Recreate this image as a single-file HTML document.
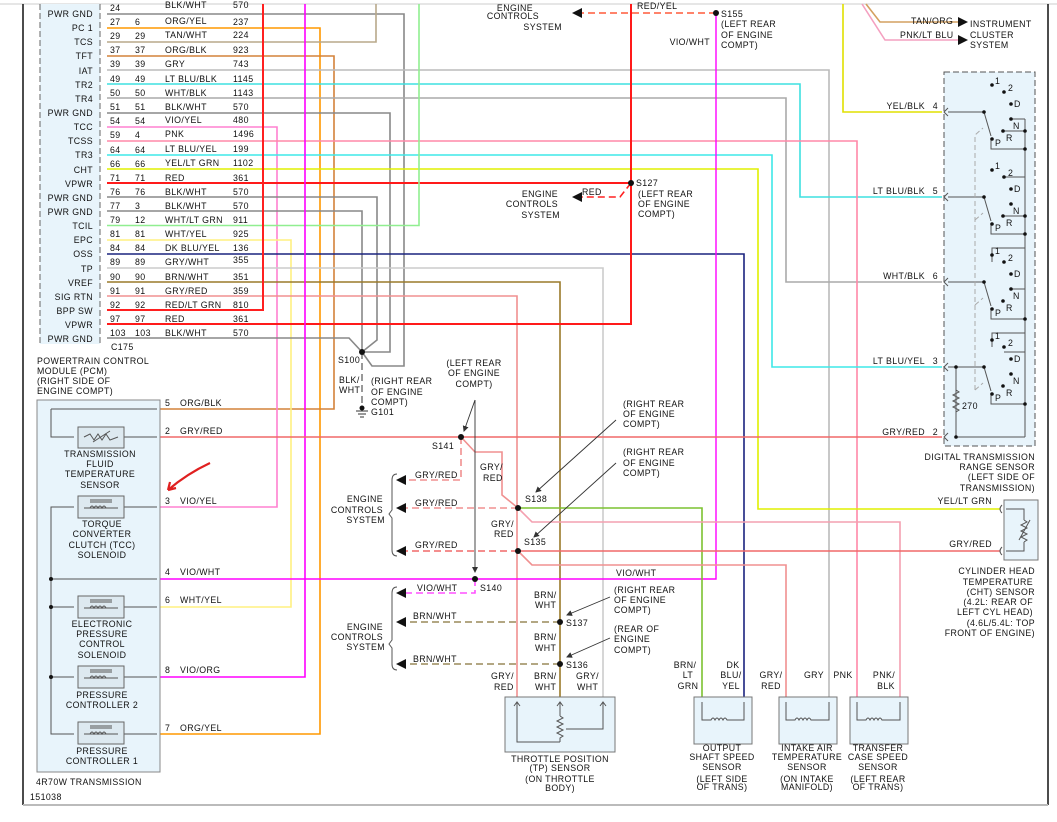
<!DOCTYPE html>
<html><head><meta charset="utf-8"><style>
html,body{margin:0;padding:0;background:#fff;}
svg{display:block;}
text{font-family:"Liberation Sans",sans-serif;font-size:8.8px;fill:#111;letter-spacing:0.4px;}
.w{fill:none;stroke-width:1.6;}
.k{fill:none;stroke:#555;stroke-width:1;}
</style></head><body>
<svg width="1057" height="822" viewBox="0 0 1057 822" xmlns="http://www.w3.org/2000/svg">
<defs>
<marker id="sa" markerWidth="6" markerHeight="6" refX="5" refY="3" orient="auto" markerUnits="userSpaceOnUse"><path d="M0,0 L6,3 L0,6 z" fill="#333"/></marker>
</defs>
<!-- frame -->
<line x1="0" y1="4" x2="1057" y2="4" stroke="#ccc" stroke-width="1"/>
<line x1="23" y1="4" x2="23" y2="805" stroke="#111" stroke-width="1.5"/>
<line x1="1048" y1="4" x2="1048" y2="805" stroke="#111" stroke-width="1.5"/>
<line x1="23" y1="805" x2="1048" y2="805" stroke="#bbb" stroke-width="2"/>

<!-- PCM box -->
<rect x="40" y="4" width="60" height="340" fill="#e8f4fb"/>
<line x1="40" y1="4" x2="40" y2="344" stroke="#666" stroke-dasharray="6,3"/>
<line x1="100" y1="4" x2="100" y2="344" stroke="#666" stroke-dasharray="6,3"/>

<!-- wires from PCM -->
<g class="w">
<polyline points="107,14 404,14 404,366 372,366 362,352" stroke="#888"/>
<polyline points="107,28 320,28 320,734 160,734" stroke="#ff9800"/>
<polyline points="107,42 376,42 376,4" stroke="#b8a88a"/>
<polyline points="107,56 334,56 334,409 160,409" stroke="#d4823a"/>
<polyline points="107,70 829,70 829,697" stroke="#bbb"/>
<polyline points="107,84 800,84 800,197 942,197" stroke="#3ee0e0"/>
<polyline points="107,98 786,98 786,282 942,282" stroke="#aaa"/>
<polyline points="107,113 390,113 390,352 362,352" stroke="#888"/>
<polyline points="107,127 277,127 277,507 160,507" stroke="#ff80d0"/>
<polyline points="107,141 857,141 857,697" stroke="#ff88a8"/>
<polyline points="107,155 772,155 772,367 942,367" stroke="#3ee8e8"/>
<polyline points="107,169 758,169 758,509 1000,509" stroke="#e0f000"/>
<polyline points="107,183 631,183" stroke="#ff1a1a" stroke-width="2"/>
<polyline points="107,197 377,197 377,340 362,352" stroke="#888"/>
<polyline points="107,211 362,211 362,352" stroke="#888"/>
<polyline points="107,225.5 419,225.5 419,4" stroke="#90ee90"/>
<polyline points="107,240 291,240 291,607 160,607" stroke="#fff080"/>
<polyline points="107,254 744,254 744,697" stroke="#1a237e"/>
<polyline points="107,268 603,268 603,697" stroke="#ccc"/>
<polyline points="107,282 560,282 560,697" stroke="#9a7a2a"/>
<polyline points="107,296 517,296 517,697" stroke="#f09090"/>
<polyline points="107,310 263,310 263,4" stroke="#ff2020" stroke-width="2"/>
<polyline points="107,324 631,324 631,4" stroke="#ff1a1a" stroke-width="2"/>
<polyline points="107,338 349,338 362,352" stroke="#888"/>
<polyline points="305,4 305,677 160,677" stroke="#ff00ff"/>
<polyline points="716,13 716,579 160,579" stroke="#ff00ff" stroke-width="1.4"/>
<polyline points="843,4 843,112 942,112" stroke="#e0e000"/>
<polyline points="160,437 942,437" stroke="#f06868"/>
<polyline points="461,437 475,452 502,452 502,495 518,508" stroke="#f09090"/>
<polyline points="518,508 702,508 702,697" stroke="#7cc230"/>
<polyline points="518,508 532,522 900,522 900,697" stroke="#f4a0b0"/>
<polyline points="518,551 1000,551" stroke="#f06868"/>
<polyline points="518,551 532,565 786,565 786,697" stroke="#f09090"/>
<polyline points="866,4 880,22 958,22" stroke="#d4a060"/>
<polyline points="862,4 885,40 958,40" stroke="#f4a0c0"/>
</g>
<path d="M958,17 L968,22 L958,27 z M958,35 L968,40 L958,45 z" fill="#111"/>

<!-- dashed branches -->
<g fill="none" stroke-width="1.6" stroke-dasharray="7,4">
<polyline points="716,13 580,13" stroke="#ff5a3a"/>
<polyline points="631,183 620,197 582,197" stroke="#ff2020"/>
<polyline points="461,437 461,480 404,480" stroke="#f09090"/>
<polyline points="518,508 404,508" stroke="#f09090"/>
<polyline points="518,551 404,551" stroke="#f06868"/>
<polyline points="475,579 475,593 404,593" stroke="#ff50ff"/>
<polyline points="560,622 404,622" stroke="#9a8a5a"/>
<polyline points="560,664 404,664" stroke="#9a8a5a"/>
<polyline points="362,352 362,408" stroke="#333" stroke-width="1"/>
</g>
<path d="M572,13 L582,8 L582,18 z M572,197 L582,192 L582,202 z M396,480 L406,475 L406,485 z M396,508 L406,503 L406,513 z M396,551 L406,546 L406,556 z M396,593 L406,588 L406,598 z M396,622 L406,617 L406,627 z M396,664 L406,659 L406,669 z" fill="#111"/>
<!-- braces -->
<path d="M397,474 Q392,474 392,480 L392,510 L389,514 L392,518 L392,550 Q392,556 397,556" class="k"/>
<path d="M397,587 Q392,587 392,593 L392,640 L389,644 L392,648 L392,664 Q392,670 397,670" class="k"/>
<!-- splice dots -->
<g fill="#111">
<circle cx="716" cy="13" r="3"/><circle cx="631" cy="183" r="3"/><circle cx="362" cy="352" r="3"/>
<circle cx="461" cy="437" r="3"/><circle cx="518" cy="508" r="3"/><circle cx="518" cy="551" r="3"/>
<circle cx="475" cy="579" r="3"/><circle cx="560" cy="622" r="3"/><circle cx="560" cy="664" r="3"/>
</g>
<!-- ground -->
<g stroke="#333"><line x1="356" y1="411" x2="368" y2="411"/><line x1="358" y1="414" x2="366" y2="414"/><line x1="360" y1="417" x2="364" y2="417"/></g>
<circle cx="362" cy="408" r="2.5" fill="#111"/>
<!-- pointers -->
<g stroke="#333" fill="none" stroke-width="0.9">
<line x1="475" y1="400" x2="464" y2="431" marker-end="url(#sa)"/>
<line x1="475" y1="400" x2="475" y2="572" marker-end="url(#sa)"/>
<line x1="616" y1="420" x2="536" y2="492" marker-end="url(#sa)"/>
<line x1="616" y1="463" x2="534" y2="537" marker-end="url(#sa)"/>
<line x1="610" y1="597" x2="567" y2="615" marker-end="url(#sa)"/>
<line x1="610" y1="638" x2="567" y2="657" marker-end="url(#sa)"/>
</g>

<!-- PCM text -->
<g text-anchor="end">
<text x="93" y="17">PWR GND</text><text x="93" y="31">PC 1</text><text x="93" y="45">TCS</text><text x="93" y="59">TFT</text><text x="93" y="74">IAT</text><text x="93" y="88">TR2</text><text x="93" y="102">TR4</text><text x="93" y="116">PWR GND</text><text x="93" y="130">TCC</text><text x="93" y="144">TCSS</text><text x="93" y="158">TR3</text><text x="93" y="173">CHT</text><text x="93" y="187">VPWR</text><text x="93" y="201">PWR GND</text><text x="93" y="215">PWR GND</text><text x="93" y="229">TCIL</text><text x="93" y="243">EPC</text><text x="93" y="257">OSS</text><text x="93" y="272">TP</text><text x="93" y="286">VREF</text><text x="93" y="300">SIG RTN</text><text x="93" y="314">BPP SW</text><text x="93" y="328">VPWR</text><text x="93" y="342">PWR GND</text>
</g>
<g>
<text x="110" y="11">24</text><text x="165" y="8">BLK/WHT</text><text x="233" y="8">570</text>
<text x="110" y="25">27</text><text x="135" y="25">6</text><text x="165" y="24">ORG/YEL</text><text x="233" y="25">237</text>
<text x="110" y="39">29</text><text x="135" y="39">29</text><text x="165" y="38">TAN/WHT</text><text x="233" y="38">224</text>
<text x="110" y="53">37</text><text x="135" y="53">37</text><text x="165" y="53">ORG/BLK</text><text x="233" y="53">923</text>
<text x="110" y="67">39</text><text x="135" y="67">39</text><text x="165" y="67">GRY</text><text x="233" y="67">743</text>
<text x="110" y="82">49</text><text x="135" y="82">49</text><text x="165" y="82">LT BLU/BLK</text><text x="233" y="82">1145</text>
<text x="110" y="96">50</text><text x="135" y="96">50</text><text x="165" y="96">WHT/BLK</text><text x="233" y="96">1143</text>
<text x="110" y="110">51</text><text x="135" y="110">51</text><text x="165" y="110">BLK/WHT</text><text x="233" y="110">570</text>
<text x="110" y="124">54</text><text x="135" y="124">54</text><text x="165" y="123">VIO/YEL</text><text x="233" y="123">480</text>
<text x="110" y="138">59</text><text x="135" y="138">4</text><text x="165" y="137">PNK</text><text x="233" y="137">1496</text>
<text x="110" y="153">64</text><text x="135" y="153">64</text><text x="165" y="152">LT BLU/YEL</text><text x="233" y="152">199</text>
<text x="110" y="167">66</text><text x="135" y="167">66</text><text x="165" y="166">YEL/LT GRN</text><text x="233" y="166">1102</text>
<text x="110" y="181">71</text><text x="135" y="181">71</text><text x="165" y="181">RED</text><text x="233" y="181">361</text>
<text x="110" y="195">76</text><text x="135" y="195">76</text><text x="165" y="195">BLK/WHT</text><text x="233" y="195">570</text>
<text x="110" y="209">77</text><text x="135" y="209">3</text><text x="165" y="209">BLK/WHT</text><text x="233" y="209">570</text>
<text x="110" y="223">79</text><text x="135" y="223">12</text><text x="165" y="223">WHT/LT GRN</text><text x="233" y="223">911</text>
<text x="110" y="237">81</text><text x="135" y="237">81</text><text x="165" y="237">WHT/YEL</text><text x="233" y="237">925</text>
<text x="110" y="251">84</text><text x="135" y="251">84</text><text x="165" y="251">DK BLU/YEL</text><text x="233" y="251">136</text>
<text x="110" y="265">89</text><text x="135" y="265">89</text><text x="165" y="265">GRY/WHT</text><text x="233" y="263">355</text>
<text x="110" y="280">90</text><text x="135" y="280">90</text><text x="165" y="280">BRN/WHT</text><text x="233" y="280">351</text>
<text x="110" y="294">91</text><text x="135" y="294">91</text><text x="165" y="294">GRY/RED</text><text x="233" y="294">359</text>
<text x="110" y="308">92</text><text x="135" y="308">92</text><text x="165" y="308">RED/LT GRN</text><text x="233" y="308">810</text>
<text x="110" y="322">97</text><text x="135" y="322">97</text><text x="165" y="322">RED</text><text x="233" y="322">361</text>
<text x="110" y="336">103</text><text x="135" y="336">103</text><text x="165" y="336">BLK/WHT</text><text x="233" y="336">570</text>
<text x="111" y="350">C175</text>
<text x="37" y="364">POWERTRAIN CONTROL</text><text x="37" y="374">MODULE (PCM)</text><text x="37" y="384">(RIGHT SIDE OF</text><text x="37" y="394">ENGINE COMPT)</text>
</g>

<!-- transmission box -->
<rect x="37" y="400" width="123" height="372" fill="#e8f4fb" stroke="#888"/>
<g class="k">
<polyline points="51,409 157,409"/><polyline points="51,409 51,437 74,437"/><line x1="124" y1="437" x2="157" y2="437"/>
<polyline points="74,507 51,507 51,734 74,734"/><line x1="124" y1="507" x2="157" y2="507"/>
<line x1="51" y1="579" x2="157" y2="579"/>
<line x1="51" y1="607" x2="74" y2="607"/><line x1="124" y1="607" x2="157" y2="607"/>
<line x1="51" y1="677" x2="74" y2="677"/><line x1="124" y1="677" x2="157" y2="677"/>
<line x1="124" y1="734" x2="157" y2="734"/>
</g>
<g fill="#dde9f0" stroke="#666">
<rect x="78" y="427" width="46" height="21"/><rect x="78" y="496" width="46" height="22"/><rect x="78" y="596" width="46" height="22"/><rect x="78" y="666" width="46" height="22"/><rect x="78" y="722" width="46" height="22"/>
</g>
<g class="k">
<path d="M84,437 L90,434 L94,440 L98,434 L102,440 L106,434 L110,440 L118,437"/><line x1="93" y1="442" x2="110" y2="431"/>
<path d="M84,508 L118,508 M90,508 q2,-4 4,0 q2,-4 4,0 q2,-4 4,0 q2,-4 4,0 M90,502 L112,502 M90,500 L112,500"/>
<path d="M84,608 L118,608 M90,608 q2,-4 4,0 q2,-4 4,0 q2,-4 4,0 q2,-4 4,0 M90,602 L112,602 M90,600 L112,600"/>
<path d="M84,678 L118,678 M90,678 q2,-4 4,0 q2,-4 4,0 q2,-4 4,0 q2,-4 4,0 M90,672 L112,672 M90,670 L112,670"/>
<path d="M84,734 L118,734 M90,734 q2,-4 4,0 q2,-4 4,0 q2,-4 4,0 q2,-4 4,0 M90,728 L112,728 M90,726 L112,726"/>
</g>
<g fill="#111"><circle cx="51" cy="579" r="2"/><circle cx="51" cy="607" r="2"/><circle cx="51" cy="677" r="2"/></g>
<g text-anchor="middle">
<text x="100" y="457">TRANSMISSION</text><text x="100" y="467">FLUID</text><text x="100" y="477">TEMPERATURE</text><text x="100" y="488">SENSOR</text>
<text x="102" y="527">TORQUE</text><text x="102" y="537">CONVERTER</text><text x="102" y="548">CLUTCH (TCC)</text><text x="102" y="558">SOLENOID</text>
<text x="102" y="627">ELECTRONIC</text><text x="102" y="637">PRESSURE</text><text x="102" y="647">CONTROL</text><text x="102" y="658">SOLENOID</text>
<text x="102" y="698">PRESSURE</text><text x="102" y="708">CONTROLLER 2</text>
<text x="102" y="754">PRESSURE</text><text x="102" y="764">CONTROLLER 1</text>
</g>
<text x="36" y="785">4R70W TRANSMISSION</text>
<text x="30" y="800">151038</text>
<g>
<text x="165" y="406">5</text><text x="180" y="406">ORG/BLK</text>
<text x="165" y="434">2</text><text x="180" y="434">GRY/RED</text>
<text x="165" y="504">3</text><text x="180" y="504">VIO/YEL</text>
<text x="165" y="575">4</text><text x="180" y="575">VIO/WHT</text>
<text x="165" y="603">6</text><text x="180" y="603">WHT/YEL</text>
<text x="165" y="673">8</text><text x="180" y="673">VIO/ORG</text>
<text x="165" y="731">7</text><text x="180" y="731">ORG/YEL</text>
</g>
<path d="M210,463 C195,470 182,478 168,490 M168,490 L176,488 M168,490 L170,482" stroke="#e02020" stroke-width="2.2" fill="none"/>

<!-- middle labels -->
<g>
<text x="515" y="11" text-anchor="middle">ENGINE</text><text x="539" y="19" text-anchor="end">CONTROLS</text><text x="562" y="30" text-anchor="end">SYSTEM</text>
<text x="637" y="9">RED/YEL</text>
<text x="721" y="17">S155</text><text x="721" y="27">(LEFT REAR</text><text x="721" y="38">OF ENGINE</text><text x="721" y="48">COMPT)</text>
<text x="710" y="45" text-anchor="end">VIO/WHT</text>
<text x="636" y="186">S127</text><text x="638" y="197">(LEFT REAR</text><text x="638" y="207">OF ENGINE</text><text x="638" y="217">COMPT)</text>
<text x="582" y="195">RED</text>
<text x="558" y="197" text-anchor="end">ENGINE</text><text x="558" y="207" text-anchor="end">CONTROLS</text><text x="560" y="218" text-anchor="end">SYSTEM</text>
<text x="338" y="363">S100</text><text x="339" y="383">BLK/</text><text x="339" y="393">WHT</text>
<text x="371" y="384">(RIGHT REAR</text><text x="371" y="395">OF ENGINE</text><text x="371" y="405">COMPT)</text><text x="371" y="415">G101</text>
<text x="474" y="366" text-anchor="middle">(LEFT REAR</text><text x="474" y="376" text-anchor="middle">OF ENGINE</text><text x="474" y="387" text-anchor="middle">COMPT)</text>
<text x="432" y="449">S141</text>
<text x="415" y="478">GRY/RED</text><text x="415" y="506">GRY/RED</text><text x="415" y="548">GRY/RED</text>
<text x="480" y="470">GRY/</text><text x="483" y="481">RED</text>
<text x="491" y="527">GRY/</text><text x="494" y="537">RED</text>
<text x="525" y="502">S138</text><text x="524" y="545">S135</text>
<text x="623" y="407">(RIGHT REAR</text><text x="623" y="417">OF ENGINE</text><text x="623" y="427">COMPT)</text>
<text x="623" y="455">(RIGHT REAR</text><text x="623" y="466">OF ENGINE</text><text x="623" y="476">COMPT)</text>
<text x="383" y="502" text-anchor="end">ENGINE</text><text x="383" y="513" text-anchor="end">CONTROLS</text><text x="385" y="523" text-anchor="end">SYSTEM</text>
<text x="616" y="576">VIO/WHT</text>
<text x="417" y="591">VIO/WHT</text><text x="480" y="591">S140</text>
<text x="413" y="619">BRN/WHT</text><text x="413" y="662">BRN/WHT</text>
<text x="534" y="598">BRN/</text><text x="535" y="608">WHT</text>
<text x="534" y="640">BRN/</text><text x="535" y="651">WHT</text>
<text x="566" y="626">S137</text><text x="566" y="668">S136</text>
<text x="614" y="593">(RIGHT REAR</text><text x="614" y="603">OF ENGINE</text><text x="614" y="613">COMPT)</text>
<text x="614" y="632">(REAR OF</text><text x="614" y="642">ENGINE</text><text x="614" y="653">COMPT)</text>
<text x="383" y="630" text-anchor="end">ENGINE</text><text x="383" y="640" text-anchor="end">CONTROLS</text><text x="385" y="650" text-anchor="end">SYSTEM</text>
<text x="491" y="679">GRY/</text><text x="494" y="690">RED</text>
<text x="534" y="679">BRN/</text><text x="535" y="690">WHT</text>
<text x="576" y="679">GRY/</text><text x="577" y="690">WHT</text>
</g>

<!-- TP sensor -->
<rect x="505" y="697" width="110" height="55" fill="#e8f4fb" stroke="#777"/>
<g class="k">
<polyline points="517,702 517,742 560,742"/><polyline points="560,702 560,716"/><path d="M560,716 l3,2 -6,3 6,3 -6,3 6,3 -6,3 6,3 -3,2 L560,742"/>
<polyline points="603,702 603,729 566,729"/>
<path d="M514,706 L517,702 L520,706 M557,706 L560,702 L563,706 M600,706 L603,702 L606,706"/>
</g>
<text x="560" y="762" text-anchor="middle">THROTTLE POSITION</text><text x="560" y="771" text-anchor="middle">(TP) SENSOR</text>
<text x="560" y="782" text-anchor="middle">(ON THROTTLE</text><text x="560" y="791" text-anchor="middle">BODY)</text>

<!-- bottom sensors -->
<g fill="#e8f4fb" stroke="#777">
<rect x="694" y="697" width="58" height="47"/><rect x="779" y="697" width="58" height="47"/><rect x="850" y="697" width="58" height="47"/>
</g>
<g class="k">
<path d="M702,702 L702,720 L711,720 q2,-4 4,0 q2,-4 4,0 q2,-4 4,0 q2,-4 4,0 L744,720 L744,702"/>
<path d="M786,702 L786,720 L795,720 q2,-4 4,0 q2,-4 4,0 q2,-4 4,0 q2,-4 4,0 L829,720 L829,702"/>
<path d="M857,702 L857,720 L866,720 q2,-4 4,0 q2,-4 4,0 q2,-4 4,0 q2,-4 4,0 L900,720 L900,702"/>
</g>
<g text-anchor="middle">
<text x="685" y="668">BRN/</text><text x="688" y="678">LT</text><text x="688" y="689">GRN</text>
<text x="733" y="668">DK</text><text x="731" y="678">BLU/</text><text x="731" y="689">YEL</text>
<text x="771" y="678">GRY/</text><text x="771" y="689">RED</text>
<text x="814" y="678">GRY</text><text x="843" y="678">PNK</text>
<text x="884" y="678">PNK/</text><text x="886" y="689">BLK</text>
<text x="722" y="751">OUTPUT</text><text x="722" y="760">SHAFT SPEED</text><text x="722" y="770">SENSOR</text><text x="722" y="782">(LEFT SIDE</text><text x="722" y="790">OF TRANS)</text>
<text x="807" y="751">INTAKE AIR</text><text x="807" y="760">TEMPERATURE</text><text x="807" y="770">SENSOR</text><text x="807" y="782">(ON INTAKE</text><text x="807" y="790">MANIFOLD)</text>
<text x="878" y="751">TRANSFER</text><text x="878" y="760">CASE SPEED</text><text x="878" y="770">SENSOR</text><text x="878" y="782">(LEFT REAR</text><text x="878" y="790">OF TRANS)</text>
</g>

<!-- top right -->
<text x="911" y="24">TAN/ORG</text><text x="900" y="38">PNK/LT BLU</text>
<text x="970" y="27">INSTRUMENT</text><text x="970" y="38">CLUSTER</text><text x="970" y="48">SYSTEM</text>

<!-- DTR -->
<rect x="944" y="72" width="91" height="374" fill="#e8f4fb" stroke="#555" stroke-dasharray="6,3"/>
<g text-anchor="end">
<text x="925" y="109">YEL/BLK</text><text x="938" y="109">4</text>
<text x="925" y="194">LT BLU/BLK</text><text x="938" y="194">5</text>
<text x="925" y="279">WHT/BLK</text><text x="938" y="279">6</text>
<text x="925" y="364">LT BLU/YEL</text><text x="938" y="364">3</text>
<text x="925" y="435">GRY/RED</text><text x="938" y="435">2</text>
</g>
<g class="k" stroke="#333">
<line x1="948" y1="112" x2="984" y2="112"/><line x1="984" y1="112" x2="991" y2="136"/><polyline points="991,139 991,149 1025,149"/><polyline points="1011,119 1025,119"/><line x1="1003" y1="131" x2="1025" y2="131"/>
<line x1="948" y1="197" x2="984" y2="197"/><line x1="984" y1="197" x2="991" y2="221"/><polyline points="991,224 991,234 1025,234"/><line x1="1004" y1="177" x2="1025" y2="177"/><line x1="1003" y1="216" x2="1025" y2="216"/>
<line x1="948" y1="282" x2="984" y2="282"/><line x1="984" y1="282" x2="991" y2="306"/><polyline points="991,309 991,319 1025,319"/><polyline points="992,262 992,248 1025,248"/><line x1="1011" y1="289" x2="1025" y2="289"/>
<line x1="948" y1="367" x2="984" y2="367"/><line x1="984" y1="367" x2="991" y2="391"/><polyline points="991,394 991,404 1025,404"/><polyline points="992,347 992,333 1025,333"/><line x1="1004" y1="352" x2="1025" y2="352"/>
<line x1="1025" y1="119" x2="1025" y2="437"/>
<polyline points="956,367 956,437 1025,437"/><path d="M956,390 l3,2 -6,3 6,3 -6,3 6,3 -6,3 6,3 -3,2"/>
<path d="M948,108 L944,112 L948,116 M948,193 L944,197 L948,201 M948,278 L944,282 L948,286 M948,363 L944,367 L948,371 M948,433 L944,437 L948,441"/>
</g>
<g stroke="#aaa" fill="none" stroke-dasharray="5,3">
<path d="M975,390 L975,135 L983,128 M975,220 L983,213 M975,305 L983,298 M975,390 L983,383"/>
</g>
<g fill="#111">
<circle cx="992" cy="85" r="1.8"/><circle cx="1004" cy="92" r="1.8"/><circle cx="1011" cy="104" r="1.8"/><circle cx="1011" cy="119" r="1.8"/><circle cx="1003" cy="131" r="1.8"/><circle cx="992" cy="139" r="1.8"/><circle cx="984" cy="112" r="1.8"/>
<circle cx="992" cy="170" r="1.8"/><circle cx="1004" cy="177" r="1.8"/><circle cx="1011" cy="189" r="1.8"/><circle cx="1011" cy="204" r="1.8"/><circle cx="1003" cy="216" r="1.8"/><circle cx="992" cy="224" r="1.8"/><circle cx="984" cy="197" r="1.8"/>
<circle cx="992" cy="255" r="1.8"/><circle cx="1004" cy="262" r="1.8"/><circle cx="1011" cy="274" r="1.8"/><circle cx="1011" cy="289" r="1.8"/><circle cx="1003" cy="301" r="1.8"/><circle cx="992" cy="309" r="1.8"/><circle cx="984" cy="282" r="1.8"/>
<circle cx="992" cy="340" r="1.8"/><circle cx="1004" cy="347" r="1.8"/><circle cx="1011" cy="359" r="1.8"/><circle cx="1011" cy="374" r="1.8"/><circle cx="1003" cy="386" r="1.8"/><circle cx="992" cy="394" r="1.8"/><circle cx="984" cy="367" r="1.8"/>
<circle cx="1025" cy="131" r="1.8"/><circle cx="1025" cy="149" r="1.8"/><circle cx="1025" cy="216" r="1.8"/><circle cx="1025" cy="234" r="1.8"/><circle cx="1025" cy="319" r="1.8"/><circle cx="1025" cy="404" r="1.8"/><circle cx="956" cy="367" r="1.8"/><circle cx="956" cy="437" r="1.8"/>
</g>
<g style="font-size:7.5px">
<text x="995" y="84">1</text><text x="1008" y="91">2</text><text x="1014" y="107">D</text><text x="1013" y="129">N</text><text x="1006" y="141">R</text><text x="995" y="146">P</text>
<text x="995" y="169">1</text><text x="1008" y="176">2</text><text x="1014" y="192">D</text><text x="1013" y="214">N</text><text x="1006" y="226">R</text><text x="995" y="231">P</text>
<text x="995" y="254">1</text><text x="1008" y="261">2</text><text x="1014" y="277">D</text><text x="1013" y="299">N</text><text x="1006" y="311">R</text><text x="995" y="316">P</text>
<text x="995" y="339">1</text><text x="1008" y="346">2</text><text x="1014" y="362">D</text><text x="1013" y="384">N</text><text x="1006" y="396">R</text><text x="995" y="401">P</text>
<text x="962" y="409">270</text>
</g>
<g text-anchor="end">
<text x="1035" y="460">DIGITAL TRANSMISSION</text><text x="1035" y="470">RANGE SENSOR</text><text x="1035" y="480">(LEFT SIDE OF</text><text x="1035" y="491">TRANSMISSION)</text>
<text x="992" y="504">YEL/LT GRN</text><text x="992" y="547">GRY/RED</text>
<text x="1035" y="574">CYLINDER HEAD</text><text x="1033" y="585">TEMPERATURE</text><text x="1035" y="595">(CHT) SENSOR</text><text x="1033" y="605">(4.2L: REAR OF</text><text x="1033" y="615">LEFT CYL HEAD)</text><text x="1035" y="626">(4.6L/5.4L: TOP</text><text x="1035" y="636">FRONT OF ENGINE)</text>
</g>
<!-- CHT -->
<rect x="1004" y="500" width="34" height="60" fill="#e8f4fb" stroke="#777"/>
<g class="k" stroke="#333">
<polyline points="1006,509 1024,509 1024,520"/><path d="M1024,520 l3,2 -6,3 6,3 -6,3 6,3 -6,3 6,3 -3,2"/><polyline points="1024,542 1024,551 1006,551"/><line x1="1019" y1="540" x2="1030" y2="520"/>
<path d="M1002,505 Q998,509 1002,513 M1002,547 Q998,551 1002,555"/>
</g>
</svg>
</body></html>
